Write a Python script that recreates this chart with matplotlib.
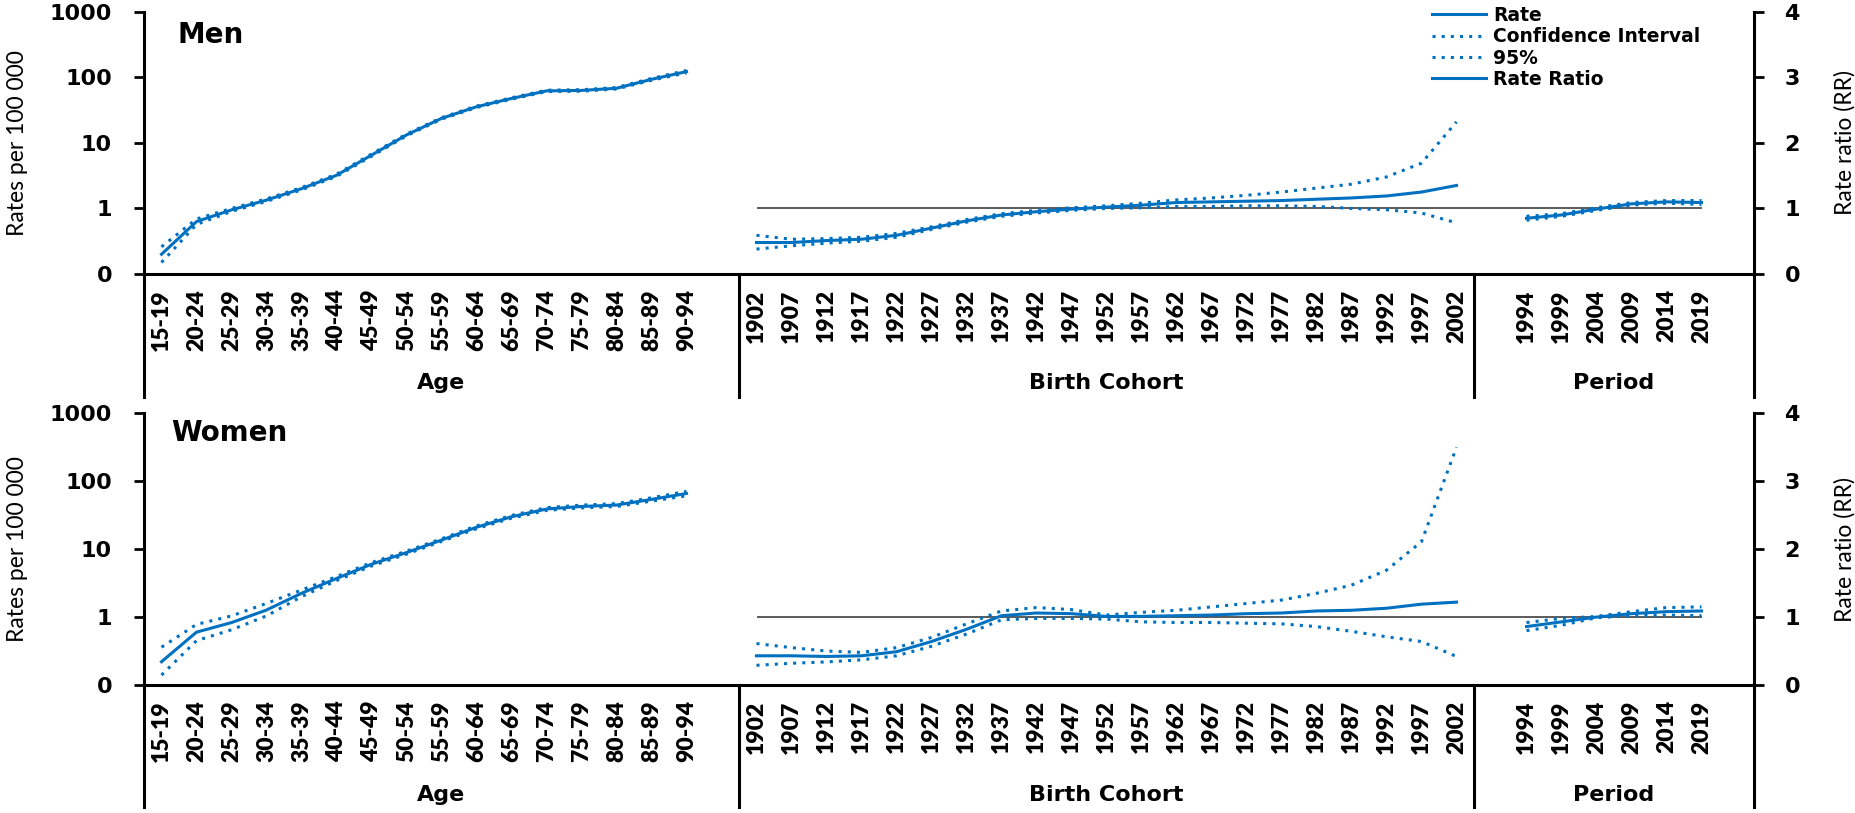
import numpy as np
import matplotlib.pyplot as plt
from matplotlib.lines import Line2D
from matplotlib.ticker import NullLocator

plt.rcParams['font.family'] = ['DejaVu Sans']
ROT_FONT = 'Lato'   # narrower face for the rotated texts

BLUE = '#0070C0'
DOT = (0, (1, 2))

# categories
age_labels = ['15-19', '20-24', '25-29', '30-34', '35-39', '40-44', '45-49', '50-54',
              '55-59', '60-64', '65-69', '70-74', '75-79', '80-84', '85-89', '90-94']
cohort_labels = ['1902', '1907', '1912', '1917', '1922', '1927', '1932', '1937', '1942',
                 '1947', '1952', '1957', '1962', '1967', '1972', '1977', '1982', '1987',
                 '1992', '1997', '2002']
period_labels = ['1994', '1999', '2004', '2009', '2014', '2019']

# age effects, rates per 100 000 (log axis)
men_age_rate = [0.20, 0.63, 0.95, 1.34, 2.0, 3.2, 6.5, 13.2, 23.6, 35.5, 47.5, 62, 63, 68, 93, 122]
men_age_lo = [0.15, 0.57, 0.90, 1.28, 1.92, 3.08, 6.25, 12.8, 23.0, 34.6, 46.3, 60.5, 61.4, 66.2, 90, 117]
men_age_hi = [0.26, 0.69, 1.0, 1.40, 2.08, 3.32, 6.75, 13.6, 24.2, 36.4, 48.7, 63.5, 64.6, 69.8, 96, 127]

women_age_rate = [0.22, 0.60, 0.83, 1.27, 2.24, 3.7, 6.0, 8.9, 13.6, 21, 30, 39, 42.5, 44.6, 54, 66]
women_age_lo = [0.14, 0.45, 0.65, 1.04, 2.0, 3.45, 5.65, 8.45, 13.0, 20.0, 28.6, 37.2, 40.5, 42.4, 51, 61]
women_age_hi = [0.36, 0.78, 1.04, 1.59, 2.5, 3.95, 6.35, 9.35, 14.2, 22.0, 31.4, 40.8, 44.5, 46.8, 57, 71]

# cohort rate ratios
men_coh_rr = [0.48, 0.48, 0.51, 0.53, 0.59, 0.70, 0.81, 0.90, 0.95, 0.99, 1.02, 1.05, 1.09, 1.10,
              1.11, 1.12, 1.14, 1.16, 1.19, 1.25, 1.35]
men_coh_lo = [0.38, 0.43, 0.47, 0.50, 0.56, 0.68, 0.79, 0.88, 0.93, 0.97, 1.00, 1.01, 1.03, 1.03,
              1.04, 1.04, 1.03, 1.00, 0.98, 0.93, 0.78]
men_coh_hi = [0.59, 0.53, 0.54, 0.56, 0.62, 0.72, 0.83, 0.92, 0.97, 1.01, 1.04, 1.08, 1.13, 1.16,
              1.20, 1.25, 1.31, 1.37, 1.48, 1.69, 2.32]

women_coh_rr = [0.43, 0.43, 0.42, 0.43, 0.49, 0.64, 0.82, 1.02, 1.06, 1.05, 1.01, 1.01, 1.02, 1.03,
                1.05, 1.06, 1.09, 1.10, 1.13, 1.19, 1.22]
women_coh_lo = [0.29, 0.32, 0.34, 0.37, 0.43, 0.57, 0.75, 0.96, 0.98, 0.98, 0.97, 0.93, 0.92, 0.92,
                0.91, 0.90, 0.86, 0.79, 0.71, 0.64, 0.42]
women_coh_hi = [0.61, 0.55, 0.50, 0.48, 0.55, 0.70, 0.90, 1.09, 1.14, 1.11, 1.03, 1.07, 1.10, 1.15,
                1.20, 1.25, 1.35, 1.47, 1.69, 2.11, 3.50]

# period rate ratios
men_per_rr = [0.85, 0.90, 0.99, 1.07, 1.10, 1.09]
men_per_lo = [0.82, 0.88, 0.97, 1.05, 1.08, 1.06]
men_per_hi = [0.88, 0.92, 1.01, 1.09, 1.12, 1.12]
women_per_rr = [0.86, 0.93, 1.00, 1.05, 1.08, 1.09]
women_per_lo = [0.80, 0.88, 0.99, 1.02, 1.03, 1.02]
women_per_hi = [0.92, 0.98, 1.01, 1.08, 1.14, 1.15]

# category slots (one empty slot after each group, like the excel axis)
age_x = np.arange(len(age_labels)) + 0.5
cohort_x = age_x[-1] + 2 + np.arange(len(cohort_labels))
period_x = cohort_x[-1] + 2 + np.arange(len(period_labels))
n_slots = period_x[-1] + 1.5
div1 = age_x[-1] + 1.5
div2 = cohort_x[-1] + 0.5
groups = [('Age', (0 + div1) / 2), ('Birth Cohort', (div1 + div2) / 2), ('Period', (div2 + n_slots) / 2)]


def draw_panel(rect, title, title_pos, ext, grp_y, age, coh, per):
    ax = fig.add_axes(rect)
    ax.set_yscale('log')
    ax.set_ylim(0.1, 1000)
    ax.set_xlim(0, n_slots)
    ax.set_yticks([0.1, 1, 10, 100, 1000], ['0', '1', '10', '100', '1000'], fontweight='bold')
    ax.yaxis.set_minor_locator(NullLocator())
    ax.set_xticks(np.concatenate([age_x, cohort_x, period_x]),
                  age_labels + cohort_labels + period_labels)
    ax.tick_params(axis='x', length=0, pad=11, labelsize=16.5, labelrotation=90,
                   labelfontfamily=ROT_FONT)
    ax.tick_params(axis='y', length=7, width=2, pad=16, labelsize=16)
    ax.spines['top'].set_visible(False)
    ax.spines['right'].set_visible(False)
    for s in ['left', 'bottom']:
        ax.spines[s].set_linewidth(2.2)
    ax.set_ylabel('Rates per 100 000', fontsize=16.5, fontfamily=ROT_FONT)
    ax.yaxis.set_label_coords(-0.072, 0.5)

    ax2 = ax.twinx()
    ax2.set_ylim(0, 4)
    ax2.set_yticks([0, 1, 2, 3, 4], ['0', '1', '2', '3', '4'], fontweight='bold')
    ax2.tick_params(axis='y', length=7, width=2, pad=15, labelsize=16)
    for s in ['top', 'left', 'bottom']:
        ax2.spines[s].set_visible(False)
    ax2.spines['right'].set_linewidth(2.2)
    ax2.set_ylabel('Rate ratio (RR)', fontsize=16.5, fontfamily=ROT_FONT)
    ax2.yaxis.set_label_coords(1.0497, 0.5)

    # category dividers below the axis
    tr = ax.get_xaxis_transform()
    for xv in [0, div1, div2, n_slots]:
        ax.add_line(Line2D([xv, xv], [0, -ext], transform=tr, color='black', lw=2.2, clip_on=False))
    for name, xc in groups:
        ax.text(xc, grp_y, name, transform=tr, ha='center', va='center', fontsize=16, fontweight='bold')

    # reference line RR = 1
    ax2.hlines(1, cohort_x[0], period_x[-1], color='#4d4d4d', lw=1.3, zorder=1)

    rate, lo, hi = age
    ax.plot(age_x, lo, color=BLUE, lw=2.2, ls=DOT)
    ax.plot(age_x, hi, color=BLUE, lw=2.2, ls=DOT)
    ax.plot(age_x, rate, color=BLUE, lw=2.2)
    for xs, (rr, lo, hi) in [(cohort_x, coh), (period_x, per)]:
        ax2.plot(xs, lo, color=BLUE, lw=2.2, ls=DOT)
        ax2.plot(xs, hi, color=BLUE, lw=2.2, ls=DOT)
        ax2.plot(xs, rr, color=BLUE, lw=2.2)

    ax.text(title_pos[0], title_pos[1], title, transform=ax.transAxes, ha='left', va='center',
            fontsize=20, fontweight='bold')
    return ax


fig = plt.figure(figsize=(18.55, 8.13), dpi=100)

W, H = 1855, 813
left = 144 / W
width = 1610 / W

axes = []
axes.append(draw_panel([left, (H - 274) / H, width, 262.3 / H], 'Men', (0.0205, 0.911), 0.469, -0.416,
                       (men_age_rate, men_age_lo, men_age_hi),
                       (men_coh_rr, men_coh_lo, men_coh_hi),
                       (men_per_rr, men_per_lo, men_per_hi)))
axes.append(draw_panel([left, (H - 685) / H, width, 271.7 / H], 'Women', (0.0168, 0.927), 0.449, -0.405,
                       (women_age_rate, women_age_lo, women_age_hi),
                       (women_coh_rr, women_coh_lo, women_coh_hi),
                       (women_per_rr, women_per_lo, women_per_hi)))

handles = [Line2D([], [], color=BLUE, lw=2.2),
           Line2D([], [], color=BLUE, lw=2.2, ls=DOT),
           Line2D([], [], color=BLUE, lw=2.2, ls=DOT),
           Line2D([], [], color=BLUE, lw=2.2)]
fig.legend(handles, ['Rate', 'Confidence Interval', '95%', 'Rate Ratio'],
           loc='upper left', bbox_to_anchor=(1432 / W, 1 - 6 / H), frameon=False,
           prop={'size': 13.5, 'weight': 'bold'}, handlelength=2.9, handletextpad=0.37,
           borderpad=0, borderaxespad=0, labelspacing=0.12)

# heavy rotated category labels once the ticks exist
fig.canvas.draw()
for ax in axes:
    for lab in ax.get_xticklabels():
        lab.set_fontfamily(ROT_FONT)
        lab.set_fontweight('heavy')

fig.savefig('out.png', dpi=100)
